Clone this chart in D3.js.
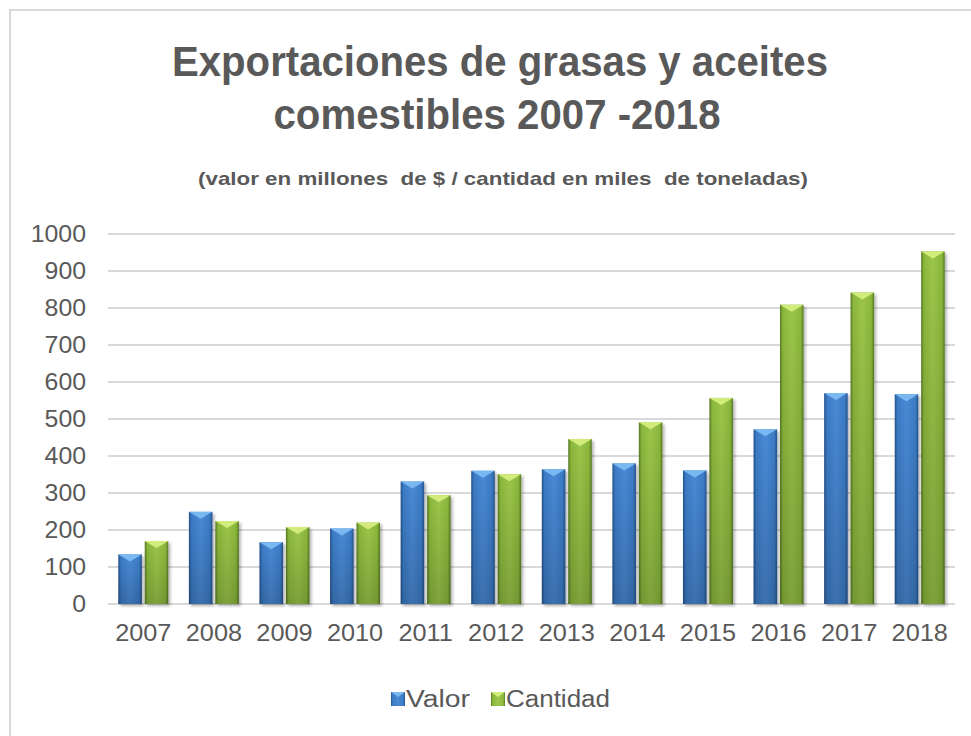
<!DOCTYPE html>
<html>
<head>
<meta charset="utf-8">
<script src="https://cdn.jsdelivr.net/npm/d3@7"></script>
<style>
  body { margin: 0; background: #fff; }
  text { font-family: "Liberation Sans", Arial, sans-serif; fill: #595959; }
</style>
</head>
<body>
<div id="chart"></div>
<script>
var years = ["2007", "2008", "2009", "2010", "2011", "2012", "2013", "2014", "2015", "2016", "2017", "2018"];
var valor = [134, 249, 167, 204, 331, 360, 364, 380, 361, 472, 570, 567];
var cantidad = [170, 224, 208, 220, 294, 351, 446, 491, 557, 809, 842, 953];
var seriesNames = ["Valor", "Cantidad"];
var yTicks = [0, 100, 200, 300, 400, 500, 600, 700, 800, 900, 1000];

function init() {
  var w = 971;
  var h = 736;

  var dataset = years.map(function(y, i) {
    return { year: y, Valor: valor[i], Cantidad: cantidad[i] };
  });

  var colors = {
    Valor:    { base: "#3c7cc6", light: "#7ab8f2", dark: "#24528c", mid: "#4a8ad6" },
    Cantidad: { base: "#8bb83c", light: "#d2ec7c", dark: "#587a22", mid: "#9cc64a" }
  };

  // the text in the picture is a bit wider than plain Arial
  function stretch(sel, k) {
    sel.each(function() {
      var len = this.getComputedTextLength();
      d3.select(this).attr("textLength", len * k).attr("lengthAdjust", "spacingAndGlyphs");
    });
  }

  var svg = d3.select("#chart")
              .append("svg")
              .attr("width", w)
              .attr("height", h);

  // gradients for the bevelled bars
  var defs = svg.append("defs");
  seriesNames.forEach(function(s) {
    var g = defs.append("linearGradient")
        .attr("id", "grad" + s)
        .attr("x1", "0").attr("x2", "1").attr("y1", "0").attr("y2", "0");
    g.append("stop").attr("offset", "0%").attr("stop-color", colors[s].dark);
    g.append("stop").attr("offset", "12%").attr("stop-color", colors[s].base);
    g.append("stop").attr("offset", "50%").attr("stop-color", colors[s].mid);
    g.append("stop").attr("offset", "88%").attr("stop-color", colors[s].base);
    g.append("stop").attr("offset", "100%").attr("stop-color", colors[s].dark);
    var v = defs.append("linearGradient")
        .attr("id", "shade" + s)
        .attr("x1", "0").attr("x2", "0").attr("y1", "0").attr("y2", "1");
    v.append("stop").attr("offset", "0%").attr("stop-color", "#000").attr("stop-opacity", 0);
    v.append("stop").attr("offset", "100%").attr("stop-color", "#000").attr("stop-opacity", 0.18);
  });
  var f = defs.append("filter").attr("id", "shadow")
      .attr("x", "-20%").attr("y", "-10%").attr("width", "150%").attr("height", "130%");
  f.append("feDropShadow").attr("dx", 2).attr("dy", 2).attr("stdDeviation", 1.5)
      .attr("flood-color", "#000").attr("flood-opacity", 0.3);

  // chart border
  svg.append("rect")
      .attr("x", 10).attr("y", 10)
      .attr("width", w + 20).attr("height", h + 20)
      .attr("fill", "none")
      .attr("stroke", "#d9d9d9")
      .attr("stroke-width", 2);

  // titles
  svg.append("text")
      .attr("x", 500).attr("y", 76)
      .attr("text-anchor", "middle")
      .attr("font-size", 42).attr("font-weight", "bold")
      .attr("textLength", 656).attr("lengthAdjust", "spacingAndGlyphs")
      .text("Exportaciones de grasas y aceites");
  svg.append("text")
      .attr("x", 497).attr("y", 129)
      .attr("text-anchor", "middle")
      .attr("font-size", 42).attr("font-weight", "bold")
      .attr("textLength", 447).attr("lengthAdjust", "spacingAndGlyphs")
      .text("comestibles 2007 -2018");
  svg.append("text")
      .attr("x", 503).attr("y", 185)
      .attr("text-anchor", "middle")
      .attr("font-size", 19).attr("font-weight", "bold")
      .attr("textLength", 610).attr("lengthAdjust", "spacingAndGlyphs")
      .attr("xml:space", "preserve")
      .text("(valor en millones  de $ / cantidad en miles  de toneladas)");

  var xScale = d3.scaleBand()
      .domain(years)
      .range([108, 955]);

  var xSub = d3.scaleBand()
      .domain(seriesNames)
      .range([0, xScale.bandwidth()])
      .paddingInner(0.11)
      .paddingOuter(0.39);

  var yScale = d3.scaleLinear()
      .domain([0, 1000])
      .range([604, 234]);

  // gridlines
  svg.append("g")
      .selectAll("line")
      .data(yTicks)
      .enter()
      .append("line")
      .attr("x1", 108).attr("x2", 955)
      .attr("y1", function(d) { return yScale(d); })
      .attr("y2", function(d) { return yScale(d); })
      .attr("stroke", "#d9d9d9")
      .attr("stroke-width", 2);

  var yAxis = d3.axisLeft(yScale)
      .tickValues(yTicks)
      .tickFormat(d3.format("d"))
      .tickSize(0)
      .tickPadding(22);

  var gy = svg.append("g")
      .attr("transform", "translate(108,0)")
      .call(yAxis);
  gy.select(".domain").remove();
  gy.selectAll("text")
      .attr("font-size", 23)
      .attr("fill", "#595959")
      .style("font-family", "'Liberation Sans', Arial, sans-serif")
      .call(stretch, 1.08);

  var xAxis = d3.axisBottom(xScale)
      .tickSize(0)
      .tickPadding(21);

  var gx = svg.append("g")
      .attr("transform", "translate(0,604)")
      .call(xAxis);
  gx.select(".domain").remove();
  gx.selectAll("text")
      .attr("font-size", 23)
      .attr("fill", "#595959")
      .style("font-family", "'Liberation Sans', Arial, sans-serif")
      .call(stretch, 1.1);

  // bars
  var groups = svg.append("g")
      .selectAll("g")
      .data(dataset)
      .enter()
      .append("g")
      .attr("transform", function(d) { return "translate(" + xScale(d.year) + ",0)"; });

  var bars = groups.selectAll("g.bar")
      .data(function(d) {
        return seriesNames.map(function(s) { return { key: s, value: d[s] }; });
      })
      .enter()
      .append("g")
      .attr("class", "bar");

  bars.append("rect")
      .attr("x", function(d) { return xSub(d.key); })
      .attr("y", function(d) { return yScale(d.value); })
      .attr("width", xSub.bandwidth())
      .attr("height", function(d) { return yScale(0) - yScale(d.value); })
      .attr("fill", function(d) { return "url(#grad" + d.key + ")"; })
      .attr("filter", "url(#shadow)");

  bars.append("rect")
      .attr("x", function(d) { return xSub(d.key); })
      .attr("y", function(d) { return yScale(d.value); })
      .attr("width", xSub.bandwidth())
      .attr("height", function(d) { return yScale(0) - yScale(d.value); })
      .attr("fill", function(d) { return "url(#shade" + d.key + ")"; });

  bars.append("path")
      .attr("d", function(d) {
        var x0 = xSub(d.key), x1 = x0 + xSub.bandwidth(), t = yScale(d.value);
        return "M" + x0 + "," + t + "L" + x1 + "," + t + "L" + (x0 + x1) / 2 + "," + (t + 7) + "Z";
      })
      .attr("fill", function(d) { return colors[d.key].light; });

  // legend
  var legendX = [391, 491];
  var legendW = [64, 104];
  var legend = svg.append("g")
      .selectAll("g")
      .data(seriesNames)
      .enter()
      .append("g")
      .attr("transform", function(d, i) { return "translate(" + legendX[i] + ",692)"; });

  legend.append("rect")
      .attr("width", 14).attr("height", 14)
      .attr("fill", function(d) { return "url(#grad" + d + ")"; });
  legend.append("path")
      .attr("d", "M0,0L14,0L7,5Z")
      .attr("fill", function(d) { return colors[d].light; });
  legend.append("text")
      .attr("x", 15).attr("y", 15)
      .attr("font-size", 23)
      .attr("textLength", function(d, i) { return legendW[i]; })
      .attr("lengthAdjust", "spacingAndGlyphs")
      .text(function(d) { return d; });
}

window.onload = init;
</script>
</body>
</html>
